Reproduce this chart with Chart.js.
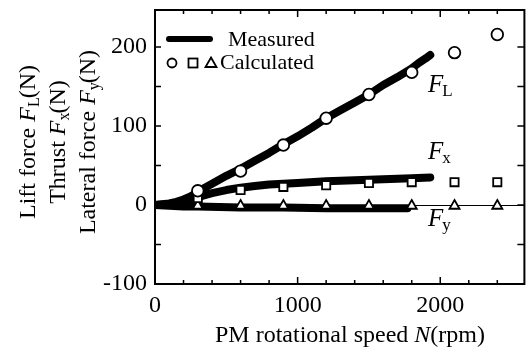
<!DOCTYPE html>
<html><head><meta charset="utf-8">
<script src="https://cdn.jsdelivr.net/npm/chart.js@4"></script>
<style>html,body{margin:0;padding:0;overflow:hidden;background:#fff}#wrap{width:532px;height:352px}</style>
</head><body><div id="wrap"><canvas id="c" width="532" height="352"></canvas></div>
<script>
// ---- data ----
const measuredSpeedL = [0, 50, 100, 150, 200, 250, 300, 350, 400, 500, 600, 700, 800, 900, 1000, 1100, 1200, 1300, 1400, 1500, 1600, 1700, 1800, 1850, 1900, 1930];
const measuredLift   = [0, 1, 2, 4, 7, 11, 16, 22, 27, 37, 46, 56, 66, 77, 87, 98, 110, 120, 130, 140, 152, 162, 173, 180, 186, 190];
const measuredSpeedX = [0, 100, 200, 300, 400, 500, 600, 700, 800, 900, 1000, 1200, 1500, 1800, 1930];
const measuredThrust = [0, 1, 4, 10, 15, 19, 22, 24, 26, 27, 28, 30, 32, 34, 35];
const measuredSpeedY = [0, 100, 200, 300, 600, 900, 1200, 1500, 1770];
const measuredLateral = [0, -1, -2, -2, -3, -3, -4, -4, -4];
const calcSpeed   = [300, 600, 900, 1200, 1500, 1800, 2100, 2400];
const calcLift    = [18, 43, 76, 110, 140, 168, 193, 216];
const calcThrust  = [9, 19, 23, 25, 28, 29, 29, 29];
const calcLateral = [-1, -1, -1, -1, -1, -1, -1, -1];
const xTickLabels = [0, 1000, 2000];
const yTickLabels = [-100, 0, 100, 200];
const xTickMarks = [0, 200, 400, 600, 800, 1000, 1200, 1400, 1600, 1800, 2000, 2200, 2400];
const yTickMarks = [-100, -50, 0, 50, 100, 150, 200];

const pts = (xs, ys) => xs.map((x, i) => ({x, y: ys[i]}));
const SERIF = '"Liberation Serif", "Times New Roman", serif';

const decor = {
  id: 'decor',
  beforeDatasetsDraw(chart) {
    const {ctx, chartArea: a, scales: {x, y}} = chart;
    ctx.save();
    ctx.strokeStyle = '#000';
    ctx.lineWidth = 1;
    const y0 = Math.round(y.getPixelForValue(0)) + 0.5;
    ctx.beginPath(); ctx.moveTo(a.left, y0); ctx.lineTo(a.right, y0); ctx.stroke();
    ctx.restore();
  },
  afterDraw(chart) {
    const {ctx, chartArea: a, scales: {x, y}} = chart;
    ctx.save();
    ctx.strokeStyle = '#000';
    ctx.lineWidth = 2;
    ctx.beginPath();
    ctx.moveTo(a.left, a.top); ctx.lineTo(a.right, a.top); ctx.lineTo(a.right, a.bottom);
    ctx.lineTo(a.left, a.bottom); ctx.closePath(); ctx.stroke();
    ctx.lineWidth = 1.5;
    ctx.beginPath();
    xTickMarks.forEach(v => {
      const px = x.getPixelForValue(v);
      const big = v % 1000 === 0 ? 7 : 4;
      ctx.moveTo(px, a.bottom); ctx.lineTo(px, a.bottom - big);
      ctx.moveTo(px, a.top); ctx.lineTo(px, a.top + big);
    });
    yTickMarks.forEach(v => {
      const py = y.getPixelForValue(v);
      ctx.moveTo(a.left, py); ctx.lineTo(a.left + 6, py);
      ctx.moveTo(a.right, py); ctx.lineTo(a.right - 7, py);
    });
    ctx.stroke();

    ctx.fillStyle = '#000';
    ctx.textBaseline = 'alphabetic';
    // x tick labels, positioned by the x scale
    ctx.font = '24px ' + SERIF;
    ctx.textAlign = 'center';
    xTickLabels.forEach(v => ctx.fillText(String(v), x.getPixelForValue(v), 312));
    ctx.textAlign = 'left';

    // legend
    ctx.lineWidth = 6;
    ctx.lineCap = 'round';
    ctx.beginPath(); ctx.moveTo(169, 39); ctx.lineTo(210, 39); ctx.stroke();
    ctx.lineCap = 'butt';
    ctx.font = '22px ' + SERIF;
    ctx.fillText('Measured', 228, 46);
    ctx.fillText('Calculated', 220, 69);
    ctx.lineWidth = 1.8;
    ctx.beginPath(); ctx.arc(172, 63, 4.5, 0, Math.PI * 2); ctx.stroke();
    ctx.strokeRect(188.5, 58.5, 9, 9);
    ctx.beginPath(); ctx.moveTo(211, 57.5); ctx.lineTo(216.5, 67); ctx.lineTo(205.5, 67); ctx.closePath(); ctx.stroke();

    // series labels
    const fLabel = (sub, px, py) => {
      ctx.font = 'italic 25px ' + SERIF;
      ctx.fillText('F', px, py);
      const w = ctx.measureText('F').width;
      ctx.font = '17px ' + SERIF;
      ctx.fillText(sub, px + w - 1, py + 4);
    };
    fLabel('L', 428, 92);
    fLabel('x', 428, 159);
    fLabel('y', 428, 226);

    // x title
    const xt = [{t: 'PM rotational speed ', f: '24px ' + SERIF}, {t: 'N', f: 'italic 24px ' + SERIF}, {t: '(rpm)', f: '24px ' + SERIF}];
    let tw = 0; xt.forEach(s => { ctx.font = s.f; s.w = ctx.measureText(s.t).width; tw += s.w; });
    let cx = 350 - tw / 2;
    xt.forEach(s => { ctx.font = s.f; ctx.fillText(s.t, cx, 342); cx += s.w; });

    // y titles (rotated)
    const lines = [
      {base: 35, segs: [['Lift force ', 0], ['F', 1], ['L', 2], ['(N)', 0]]},
      {base: 65, segs: [['Thrust ', 0], ['F', 1], ['x', 2], ['(N)', 0]]},
      {base: 95, segs: [['Lateral force ', 0], ['F', 1], ['y', 2], ['(N)', 0]]}
    ];
    const fonts = ['24px ' + SERIF, 'italic 24px ' + SERIF, '16px ' + SERIF];
    lines.forEach(l => {
      let total = 0;
      const ws = l.segs.map(([t, k]) => { ctx.font = fonts[k]; const w = ctx.measureText(t).width - (k === 2 ? 1 : 0); total += w; return w; });
      ctx.save();
      ctx.translate(l.base, 142);
      ctx.rotate(-Math.PI / 2);
      let p = -total / 2;
      l.segs.forEach(([t, k], i) => { ctx.font = fonts[k]; ctx.fillText(t, p, k === 2 ? 4 : 0); p += ws[i]; });
      ctx.restore();
    });
    ctx.restore();
  }
};

const lineDs = (data) => ({data, showLine: true, borderColor: '#000', borderWidth: 8, pointRadius: 0, borderCapStyle: 'round', borderJoinStyle: 'round', tension: 0, order: 2});
const markDs = (data, style) => ({data, showLine: false, pointStyle: style, pointRadius: 5.8, pointBackgroundColor: '#fff', pointBorderColor: '#000', pointBorderWidth: 1.8, order: 1});

new Chart(document.getElementById('c'), {
  type: 'scatter',
  data: {datasets: [
    lineDs(pts(measuredSpeedL, measuredLift)),
    lineDs(pts(measuredSpeedX, measuredThrust)),
    lineDs(pts(measuredSpeedY, measuredLateral)),
    markDs(pts(calcSpeed, calcLift), 'circle'),
    markDs(pts(calcSpeed, calcThrust), 'rect'),
    markDs(pts(calcSpeed, calcLateral), 'triangle')
  ]},
  options: {
    responsive: false, animation: false, devicePixelRatio: 1,
    layout: {padding: {top: 10, right: 1, left: 0, bottom: 0}},
    plugins: {legend: {display: false}, tooltip: {enabled: false}},
    scales: {
      x: {type: 'linear', min: 0, max: 2590,
          grid: {display: false, drawTicks: false}, border: {display: false},
          ticks: {display: false, stepSize: 1000},
          afterFit: s => { s.height = 68; s.paddingLeft = 0; s.paddingRight = 0; }},
      y: {type: 'linear', min: -100, max: 247,
          grid: {display: false, drawTicks: false}, border: {display: false},
          ticks: {stepSize: 100, autoSkip: false, padding: 8, color: '#000',
                  font: {family: SERIF, size: 24},
                  callback: v => yTickLabels.includes(Math.round(v)) ? String(Math.round(v)) : ''},
          afterFit: s => { s.width = 155; s.paddingTop = 0; s.paddingBottom = 0; }}
    }
  },
  plugins: [decor]
});
</script></body></html>
